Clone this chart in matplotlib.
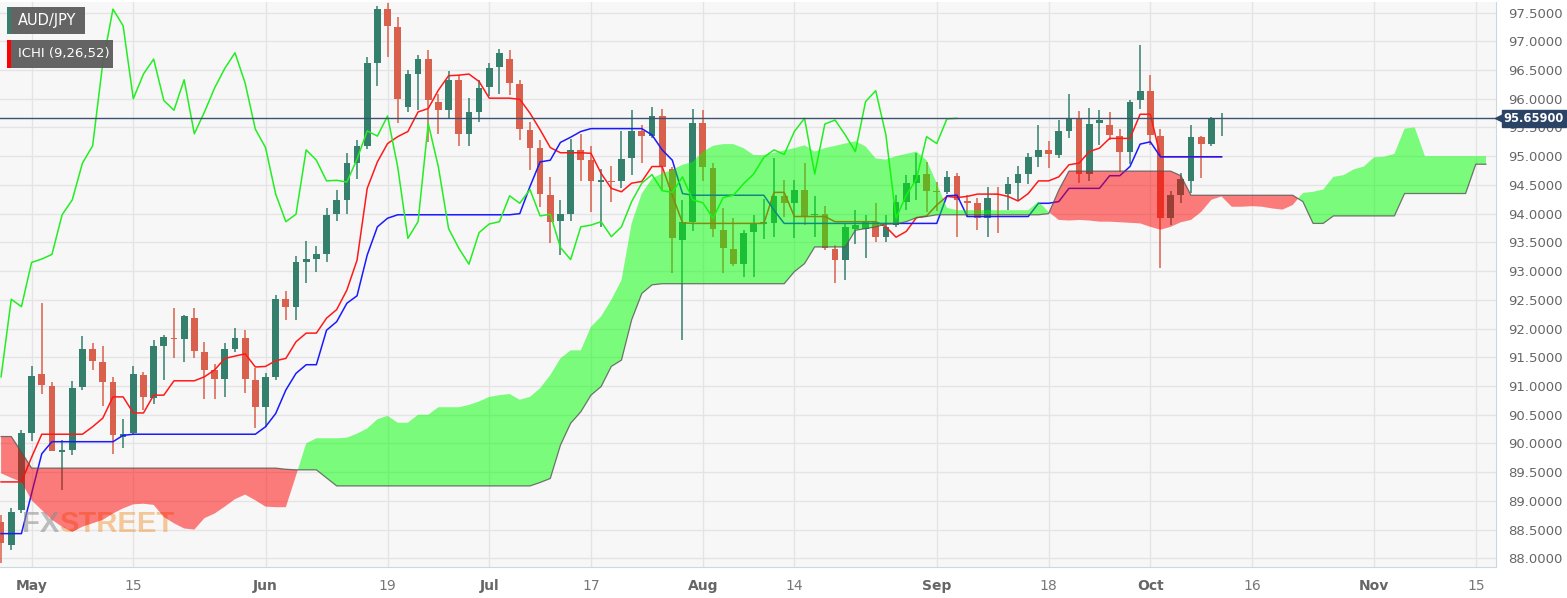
import numpy as np
import pandas as pd
import matplotlib
matplotlib.use("Agg")
import matplotlib.pyplot as plt
import matplotlib.transforms as mtransforms
from matplotlib.patches import Rectangle

# %% datos
pair = "AUD/JPY"
indicator = "ICHI (9,26,52)"
first_day = "2023-04-26"
last_candle = "2023-10-11"
last_cloud = "2023-11-16"

opens = [88.64, 88.23, 88.84, 90.19, 91.20, 91.00, 89.85, 89.89, 90.98, 91.64,
         91.42, 91.07, 90.12, 90.18, 91.19, 90.79, 91.70, 91.84, 91.82, 92.19,
         91.60, 91.28, 91.12, 91.64, 91.83, 91.10, 90.63, 91.16, 92.51, 92.38,
         93.15, 93.21, 93.29, 93.99, 94.24, 94.88, 95.18, 96.63, 97.56, 97.25,
         95.85, 96.43, 96.69, 95.95, 95.80, 96.33, 95.39, 95.77, 96.20, 96.55,
         96.70, 96.26, 95.46, 95.14, 94.32, 93.88, 93.99, 95.10, 94.93, 94.55,
         94.57, 94.57, 94.96, 95.44, 95.35, 95.70, 94.77, 93.54, 93.86, 95.57,
         94.79, 93.72, 93.38, 93.12, 93.68, 93.82, 93.83, 94.31, 94.18, 94.42,
         93.97, 93.99, 93.38, 93.20, 93.73, 93.73, 93.86, 93.60, 93.80, 94.21,
         94.54, 94.69, 94.40, 94.37, 94.65, 94.22, 94.18, 93.92, 94.34, 94.35,
         94.53, 94.69, 94.99, 95.10, 95.02, 95.44, 95.66, 94.69, 95.58, 95.54,
         95.35, 95.08, 95.97, 96.14, 95.35, 93.92, 94.32, 94.56, 95.34, 95.22,
         95.64]
highs = [88.75, 88.88, 90.23, 91.34, 92.45, 91.07, 90.06, 91.09, 91.87, 91.74,
         91.70, 91.16, 90.42, 91.34, 91.25, 91.80, 91.89, 92.35, 92.24, 92.36,
         91.77, 91.39, 91.75, 92.01, 91.97, 91.31, 91.22, 92.58, 92.66, 93.26,
         93.53, 93.44, 94.09, 94.42, 95.05, 95.28, 96.73, 97.61, 97.67, 97.43,
         96.50, 96.76, 96.85, 96.09, 96.48, 96.42, 96.01, 96.33, 96.62, 96.87,
         96.85, 96.33, 95.60, 95.28, 94.63, 94.23, 95.30, 95.39, 95.18, 94.77,
         94.83, 95.44, 95.80, 95.54, 95.86, 95.82, 94.82, 94.23, 95.83, 95.80,
         94.88, 94.09, 93.92, 93.72, 93.98, 94.25, 94.96, 94.59, 94.58, 94.88,
         94.30, 94.13, 93.45, 93.83, 94.06, 93.98, 94.18, 93.98, 94.32, 94.67,
         95.05, 94.90, 94.55, 94.75, 94.70, 94.32, 94.27, 94.47, 94.47, 94.64,
         94.83, 95.06, 95.55, 95.26, 95.63, 96.09, 95.79, 95.84, 95.80, 95.77,
         95.47, 95.98, 96.93, 96.42, 95.48, 94.40, 94.70, 95.55, 95.36, 95.69,
         95.75]
lows = [87.92, 88.14, 88.79, 90.05, 90.86, 89.86, 89.19, 89.80, 90.93, 91.28,
        90.65, 89.82, 89.92, 90.15, 90.58, 90.69, 91.10, 91.49, 91.41, 91.49,
        90.77, 90.77, 90.81, 91.60, 90.88, 90.26, 90.29, 91.10, 92.14, 92.14,
        92.79, 92.99, 93.16, 93.88, 93.99, 94.60, 95.13, 96.23, 96.73, 95.57,
        95.77, 95.80, 95.25, 95.39, 95.66, 95.17, 95.17, 95.60, 96.04, 96.08,
        96.06, 95.29, 94.76, 94.12, 93.49, 93.28, 93.87, 94.57, 94.03, 93.77,
        94.21, 94.44, 94.67, 94.89, 95.31, 94.41, 92.96, 91.80, 93.70, 94.56,
        93.60, 92.97, 93.08, 92.90, 92.90, 93.55, 93.60, 93.95, 93.57, 93.80,
        93.60, 93.37, 92.79, 92.84, 93.48, 93.22, 93.51, 93.51, 93.77, 94.06,
        94.24, 94.03, 94.05, 94.35, 93.60, 93.95, 93.72, 93.60, 93.67, 94.06,
        94.24, 94.52, 94.82, 94.79, 94.96, 95.31, 94.53, 94.56, 95.19, 95.28,
        94.73, 94.87, 95.82, 95.19, 93.05, 93.80, 94.18, 94.36, 94.62, 95.17,
        95.35]
closes = [88.27, 88.81, 90.18, 91.18, 91.02, 89.87, 89.88, 90.97, 91.64, 91.43,
          91.07, 90.15, 90.17, 91.21, 90.80, 91.70, 91.86, 91.81, 92.22, 91.61,
          91.28, 91.12, 91.64, 91.84, 91.12, 90.63, 91.16, 92.51, 92.38, 93.15,
          93.21, 93.29, 93.98, 94.24, 94.88, 95.18, 96.62, 97.56, 97.27, 96.00,
          96.43, 96.69, 95.97, 95.80, 96.33, 95.39, 95.77, 96.19, 96.53, 96.80,
          96.27, 95.47, 95.15, 94.34, 93.86, 93.99, 95.11, 94.93, 94.57, 94.58,
          94.55, 94.95, 95.44, 95.35, 95.70, 94.81, 93.57, 93.86, 95.57, 94.81,
          93.74, 93.40, 93.12, 93.67, 93.82, 93.86, 94.31, 94.18, 94.42, 93.96,
          93.99, 93.41, 93.20, 93.77, 93.80, 93.86, 93.60, 93.77, 94.21, 94.53,
          94.68, 94.40, 94.37, 94.64, 94.24, 94.19, 93.92, 94.28, 94.32, 94.52,
          94.69, 94.98, 95.11, 95.03, 95.43, 95.66, 94.69, 95.56, 95.63, 95.37,
          95.08, 95.95, 96.14, 95.37, 93.92, 94.32, 94.60, 95.34, 95.22, 95.65,
          95.659]

tenkan = [89.33, 89.33, 89.33, 89.76, 90.16, 90.16, 90.16, 90.16, 90.16, 90.29,
          90.44, 90.81, 90.81, 90.53, 90.53, 90.84, 90.84, 91.09, 91.09, 91.09,
          91.16, 91.28, 91.48, 91.52, 91.56, 91.33, 91.34, 91.44, 91.48, 91.77,
          91.92, 91.92, 92.18, 92.33, 92.67, 93.19, 94.44, 94.90, 95.22, 95.34,
          95.43, 95.77, 95.83, 96.15, 96.40, 96.41, 96.43, 96.30, 96.01, 96.01,
          96.01, 95.99, 95.75, 95.46, 95.15, 95.06, 95.06, 95.06, 95.05, 94.70,
          94.44, 94.38, 94.53, 94.56, 94.82, 94.82, 94.32, 93.84, 93.83, 93.83,
          93.83, 93.83, 93.83, 93.83, 93.83, 93.83, 94.37, 94.37, 93.95, 93.95,
          93.95, 93.95, 93.86, 93.86, 93.86, 93.86, 93.86, 93.77, 93.59, 93.69,
          93.93, 93.96, 94.15, 94.30, 94.28, 94.30, 94.34, 94.34, 94.34, 94.30,
          94.22, 94.35, 94.57, 94.57, 94.64, 94.85, 94.88, 95.08, 95.14, 95.31,
          95.31, 95.31, 95.73, 95.73, 94.99, 94.99, 94.99, 94.99, 94.99, 94.99,
          94.99]
kijun = [88.43, 88.43, 88.43, 89.13, 89.82, 90.03, 90.03, 90.03, 90.03, 90.03,
         90.03, 90.03, 90.14, 90.16, 90.16, 90.16, 90.16, 90.16, 90.16, 90.16,
         90.16, 90.16, 90.16, 90.16, 90.16, 90.16, 90.29, 90.52, 90.93, 91.22,
         91.37, 91.37, 91.97, 92.12, 92.44, 92.57, 93.28, 93.77, 93.92, 93.98,
         93.98, 93.98, 93.98, 93.98, 93.98, 93.98, 93.98, 93.98, 93.98, 93.98,
         93.98, 94.00, 94.47, 94.90, 94.93, 95.24, 95.33, 95.43, 95.48, 95.48,
         95.48, 95.48, 95.48, 95.48, 95.37, 95.11, 94.93, 94.35, 94.32, 94.32,
         94.32, 94.32, 94.32, 94.32, 94.32, 94.32, 94.06, 93.83, 93.83, 93.83,
         93.83, 93.83, 93.83, 93.83, 93.83, 93.83, 93.83, 93.83, 93.83, 93.83,
         93.83, 93.83, 93.83, 94.31, 94.32, 93.95, 93.95, 93.95, 93.95, 93.95,
         93.95, 93.95, 94.18, 94.18, 94.21, 94.44, 94.44, 94.44, 94.44, 94.66,
         94.66, 94.82, 95.21, 95.25, 94.99, 94.99, 94.99, 94.99, 94.99, 94.99,
         94.99]

span_a = [89.48, 89.40, 89.33, 89.01, 88.84, 88.67, 88.55, 88.46, 88.55, 88.61,
          88.67, 88.78, 88.87, 88.94, 88.95, 88.93, 88.72, 88.61, 88.52, 88.50,
          88.70, 88.78, 88.90, 89.03, 89.11, 89.01, 88.90, 88.89, 88.89, 89.44,
          90.00, 90.09, 90.09, 90.09, 90.10, 90.17, 90.26, 90.42, 90.48, 90.36,
          90.36, 90.50, 90.50, 90.63, 90.63, 90.63, 90.67, 90.73, 90.81, 90.84,
          90.86, 90.76, 90.81, 90.96, 91.19, 91.48, 91.62, 91.62, 92.03, 92.21,
          92.50, 92.84, 93.83, 94.35, 94.61, 94.70, 94.76, 94.85, 94.90, 95.08,
          95.18, 95.21, 95.21, 95.14, 95.02, 95.02, 95.06, 95.10, 95.14, 95.19,
          95.08, 95.14, 95.18, 95.22, 95.26, 95.17, 94.96, 94.94, 95.00, 95.04,
          95.08, 94.93, 94.53, 94.10, 94.06, 94.06, 94.06, 94.06, 94.06, 94.06,
          94.06, 94.06, 94.21, 94.03, 93.89, 93.88, 93.89, 93.88, 93.86, 93.86,
          93.85, 93.84, 93.83, 93.77, 93.72, 93.77, 93.85, 93.89, 94.03, 94.24,
          94.30, 94.12, 94.12, 94.13, 94.12, 94.09, 94.07, 94.15, 94.36, 94.38,
          94.42, 94.64, 94.67, 94.77, 94.82, 94.98, 94.99, 95.04, 95.48, 95.50,
          95.00, 95.00, 95.00, 95.00, 95.00, 95.00, 95.00]
span_b = [90.12, 90.12, 89.85, 89.57, 89.57, 89.57, 89.57, 89.57, 89.57, 89.57,
          89.57, 89.57, 89.57, 89.57, 89.57, 89.57, 89.57, 89.57, 89.57, 89.57,
          89.57, 89.57, 89.57, 89.57, 89.57, 89.57, 89.57, 89.57, 89.55, 89.54,
          89.54, 89.54, 89.40, 89.26, 89.26, 89.26, 89.26, 89.26, 89.26, 89.26,
          89.26, 89.26, 89.26, 89.26, 89.26, 89.26, 89.26, 89.26, 89.26, 89.26,
          89.26, 89.26, 89.26, 89.32, 89.39, 89.97, 90.35, 90.55, 90.84, 90.99,
          91.34, 91.45, 92.15, 92.61, 92.76, 92.78, 92.78, 92.78, 92.78, 92.78,
          92.78, 92.78, 92.78, 92.78, 92.78, 92.78, 92.78, 92.78, 92.99, 93.13,
          93.42, 93.42, 93.42, 93.42, 93.71, 93.74, 93.77, 93.82, 93.82, 93.86,
          93.93, 93.95, 93.98, 93.98, 93.98, 93.98, 93.98, 93.98, 93.98, 93.98,
          93.98, 93.98, 93.98, 94.00, 94.41, 94.74, 94.74, 94.74, 94.74, 94.74,
          94.74, 94.74, 94.74, 94.74, 94.74, 94.74, 94.66, 94.32, 94.32, 94.32,
          94.32, 94.32, 94.32, 94.32, 94.32, 94.32, 94.32, 94.32, 94.21, 93.83,
          93.83, 93.96, 93.96, 93.96, 93.96, 93.96, 93.96, 93.96, 94.35, 94.35,
          94.35, 94.35, 94.35, 94.35, 94.35, 94.86, 94.86]

tick_dates = ["2023-05-01", "2023-05-15", "2023-06-01", "2023-06-19", "2023-07-03",
              "2023-07-17", "2023-08-01", "2023-08-14", "2023-09-01", "2023-09-18",
              "2023-10-02", "2023-10-16", "2023-11-01", "2023-11-15"]
tick_labels = ["May", "15", "Jun", "19", "Jul", "17", "Aug", "14", "Sep", "18",
               "Oct", "16", "Nov", "15"]
months = ["May", "Jun", "Jul", "Aug", "Sep", "Oct", "Nov"]

# %% ejes de tiempo (dias habiles)
cloud_days = pd.bdate_range(first_day, last_cloud)
candle_days = pd.bdate_range(first_day, last_candle)
xc = np.arange(len(cloud_days))
xx = np.arange(len(candle_days))
o = np.array(opens); h = np.array(highs); l = np.array(lows); c = np.array(closes)
sa = np.array(span_a); sb = np.array(span_b)
tick_pos = cloud_days.get_indexer(pd.to_datetime(tick_dates))

# %% colores
verde = '#35806d'
rojo = '#d9604c'
navy = '#2b4466'

W, H = 1567, 598
fig = plt.figure(figsize=(W/100, H/100), dpi=100, facecolor='white')
ax = fig.add_axes([0, 1-566.7/H, 1495.7/W, 564.7/H])
ax.set_facecolor('#f7f7f7')

# velas
up = c >= o
col = np.where(up, verde, rojo)
ax.vlines(xx, l, h, colors=col, lw=1.1, zorder=2)
body = np.maximum(np.abs(c-o), 0.015)
ax.bar(xx, body, bottom=np.minimum(o, c), width=0.66, color=col, zorder=2, lw=0)

# lineas ichimoku
ax.plot(xx, tenkan, color='#ff1a1a', lw=1.1, zorder=3)
ax.plot(xx, kijun, color='#1a1aff', lw=1.1, zorder=3)
ax.plot(xx[:-26], c[26:], color='#22ee22', lw=1.1, zorder=3)  # chikou

# nube
ax.fill_between(xc, sa, sb, where=sa >= sb, interpolate=True, color='#00ff00',
                alpha=0.5, lw=0, zorder=4)
ax.fill_between(xc, sa, sb, where=sa < sb, interpolate=True, color='#ff0000',
                alpha=0.5, lw=0, zorder=4)
ax.plot(xc, sb, color='#555555', lw=0.9, alpha=0.8, zorder=5)

# linea de precio actual
last = c[-1]
ax.axhline(last, color='#3c5370', lw=1.0, zorder=6)
blend = mtransforms.blended_transform_factory(ax.transAxes, ax.transData)
ax.plot([1.0 + 4/1495.7], [last], marker='<', ms=7, color=navy, mec=navy,
        transform=blend, clip_on=False, zorder=7)
ax.text(1.0 + 8/1495.7, last, f"{last:.5f}", transform=blend, va='center', ha='left',
        color='white', fontsize=8.3, fontweight='bold',
        bbox=dict(boxstyle='square,pad=0.18', fc=navy, ec=navy), zorder=7)

# ejes
ax.set_xlim(-0.107, 146.96)
ax.set_ylim(87.854, 97.684)
ax.set_yticks(np.arange(88.0, 97.6, 0.5))
ax.set_yticklabels([f"{v:.4f}" for v in np.arange(88.0, 97.6, 0.5)])
ax.yaxis.tick_right()
ax.tick_params(axis='y', length=0, pad=9, labelsize=9.5, labelcolor='#666666')
ax.set_xticks(tick_pos)
ax.set_xticklabels(tick_labels)
ax.tick_params(axis='x', length=0, pad=9, labelsize=10, labelcolor='#777777')
for t in ax.get_xticklabels():
    if t.get_text() in months:
        t.set_fontweight('bold')
        t.set_color('#666666')
ax.grid(True, color='#e4e4e4', lw=1.0, zorder=0)
ax.set_axisbelow(True)
for s in ['left', 'top']:
    ax.spines[s].set_visible(False)
for s in ['right', 'bottom']:
    ax.spines[s].set_color('#cfd6e3')

# leyenda tipo caja
def caja(x0, y0, x1, y1, color, texto, fs):
    fig.patches.append(Rectangle((x0/W, 1-y1/H), (x1-x0)/W, (y1-y0)/H,
                                 transform=fig.transFigure, fc='#5c5c5c', ec='none',
                                 alpha=0.95, zorder=10))
    fig.patches.append(Rectangle((x0/W, 1-y1/H), 4/W, (y1-y0)/H,
                                 transform=fig.transFigure, fc=color, ec='none', zorder=11))
    fig.text((x0+11)/W, 1-(y0+y1)/2/H, texto, color='white', fontsize=fs,
             va='center', ha='left', zorder=12)

caja(7, 7, 85, 34, verde, pair, 10.5)
caja(7, 40, 113, 68, '#ff0000', indicator, 9.5)

# marca de agua
fx = fig.text(22/W, 1-524/H, "FX", color='#8c8c8c', alpha=0.55, fontsize=21,
              fontweight='bold', va='center', ha='left', family='Liberation Sans')
ax.annotate("STREET", xy=(1.0, 0.5), xycoords=fx, va='center', ha='left',
            color='#f2a04a', alpha=0.55, fontsize=21, fontweight='bold',
            family='Liberation Sans', annotation_clip=False)

fig.savefig("out.png", dpi=100, facecolor='white')
